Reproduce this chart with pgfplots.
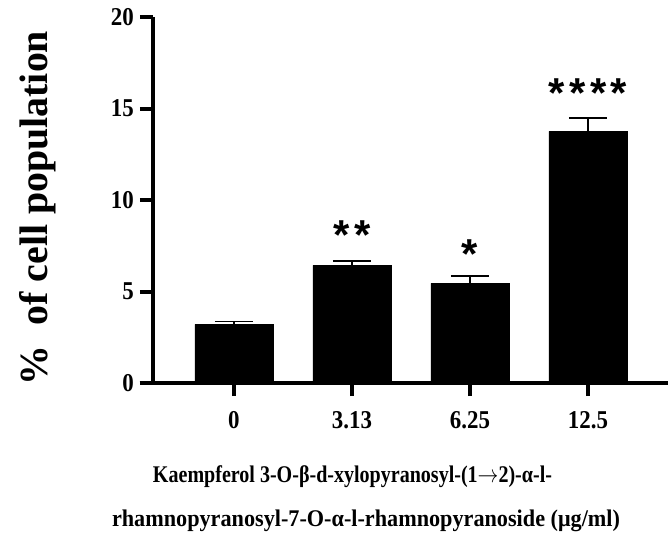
\documentclass[border=0pt]{standalone}
\usepackage{pgfplots}
\pgfplotsset{compat=1.18}
\usepackage{fontspec}
\setmainfont{Liberation Serif}
\newfontfamily\starfont{Liberation Sans}
\begin{document}
\begin{tikzpicture}
\path[use as bounding box] (0,-538bp) rectangle (672bp,0);
\begin{axis}[
  at={(153bp,-383bp)}, anchor=south west,
  scale only axis, width=515bp, height=366bp,
  xmin=-0.686, xmax=3.678, ymin=0, ymax=20,
  axis x line=bottom, axis y line=left,
  axis line style={line width=4bp, -},
  clip=false,
  xtick={0,1,2,3}, xticklabels={0,3.13,6.25,12.5},
  ytick={0,5,10,15,20},
  tick align=outside, major tick length=13bp,
  tick style={line width=4bp, black},
  /pgf/number format/assume math mode=true,
  ticklabel style={font=\fontsize{23}{26}\selectfont\bfseries, yscale=1.12},
  yticklabel style={inner sep=2bp, xshift=-4bp},
  xticklabel style={inner sep=3bp, yshift=-11bp},
  error bars/y dir=plus, error bars/y explicit,
  error bars/error mark=|,
  error bars/error bar style={line width=1.6bp, black},
  error bars/error mark options={line width=1.6bp, mark size=19bp, black},
]
\draw[line width=4bp] (rel axis cs:-0.026,0) -- (rel axis cs:1,0);
\addplot[ybar, bar width=0.661, fill=black, draw=black, bar shift=0pt]
  coordinates {
    (0,3.21) +- (0,0.16)
    (1,6.43) +- (0,0.24)
    (2,5.45) +- (0,0.40)
    (3,13.75) +- (0,0.73)
  };
\node[anchor=base, font=\starfont\bfseries\fontsize{42}{42}\selectfont, inner sep=0pt] at (axis cs:1,7.27) {*\kern4.5bp*};
\node[anchor=base, font=\starfont\bfseries\fontsize{42}{42}\selectfont, inner sep=0pt] at (axis cs:2,6.28) {*};
\node[anchor=base, font=\starfont\bfseries\fontsize{42}{42}\selectfont, inner sep=0pt] at (axis cs:3,15.08) {*\kern4.5bp*\kern4.5bp*\kern4.5bp*};
\end{axis}
\node[rotate=90, font=\fontsize{40}{44}\selectfont\bfseries] at (38bp,-208bp) {\%\ \ of cell population};
\node[anchor=base, font=\fontsize{20}{22}\selectfont\bfseries, inner sep=0pt] at (352.5bp,-482bp) {\resizebox{399bp}{1.2\height}{Kaempferol 3-O-β-d-xylopyranosyl-(1$\rightarrow$2)-α-l-}};
\node[anchor=base, font=\fontsize{20}{22}\selectfont\bfseries, inner sep=0pt] at (366bp,-526bp) {\resizebox{508bp}{1.2\height}{rhamnopyranosyl-7-O-α-l-rhamnopyranoside (μg/ml)}};
\end{tikzpicture}
\end{document}
